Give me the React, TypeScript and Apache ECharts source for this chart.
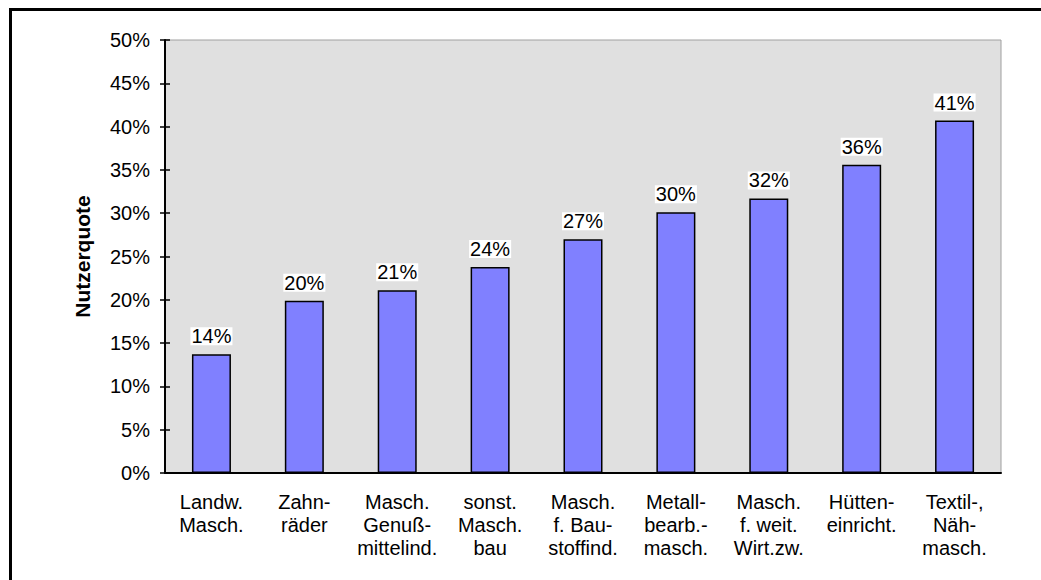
import React, { useEffect, useRef } from "react";
import * as echarts from "echarts";

const categories = [
  "Landw.\nMasch.",
  "Zahn-\nräder",
  "Masch.\nGenuß-\nmittelind.",
  "sonst.\nMasch.\nbau",
  "Masch.\nf. Bau-\nstoffind.",
  "Metall-\nbearb.-\nmasch.",
  "Masch.\nf. weit.\nWirt.zw.",
  "Hütten-\neinricht.",
  "Textil-,\nNäh-\nmasch.",
];
const values = [13.7, 19.9, 21.1, 23.8, 27.0, 30.1, 31.7, 35.6, 40.7];
const yMin = 0;
const yMax = 50;
const yStep = 5;
const axisTitle = "Nutzerquote";

const FONT = "Liberation Sans, Arial, sans-serif";

export default function App() {
  const ref = useRef<HTMLDivElement>(null);
  useEffect(() => {
    if (!ref.current) return;
    const chart = echarts.init(ref.current, null, { renderer: "svg" });
    const commonY = { type: "value", min: yMin, max: yMax, interval: yStep, position: "left" };
    chart.setOption({
      animation: false,
      textStyle: { fontFamily: FONT },
      grid: {
        left: 165,
        top: 40,
        width: 836,
        height: 433,
        show: true,
        backgroundColor: "#e0e0e0",
        borderColor: "#a0a0a0",
        borderWidth: 1,
      },
      graphic: [
        { type: "line", shape: { x1: 9, y1: 9.5, x2: 1041, y2: 9.5 }, style: { stroke: "#000", lineWidth: 3 } },
        { type: "line", shape: { x1: 10.5, y1: 8, x2: 10.5, y2: 580 }, style: { stroke: "#000", lineWidth: 3 } },
      ],
      xAxis: [
        {
          type: "category",
          data: categories,
          position: "bottom",
          axisLine: { lineStyle: { color: "#000", width: 2 } },
          axisTick: { length: 5, lineStyle: { color: "#000", width: 1.5 } },
          axisLabel: {
            interval: 0,
            color: "#000",
            fontFamily: FONT,
            fontSize: 20,
            lineHeight: 23,
            margin: 17,
            align: "center",
          },
          splitLine: { show: false },
        },
        {
          type: "category",
          data: categories,
          position: "bottom",
          axisLine: { show: false },
          axisTick: { inside: true, length: 5, lineStyle: { color: "#000", width: 1.5 } },
          axisLabel: { show: false },
          splitLine: { show: false },
        },
      ],
      yAxis: [
        {
          ...commonY,
          name: axisTitle,
          nameLocation: "middle",
          nameRotate: 90,
          nameGap: 72,
          nameTextStyle: { color: "#000", fontFamily: FONT, fontSize: 21, fontWeight: "bold" },
          axisLine: { show: true, lineStyle: { color: "#000", width: 2 } },
          axisTick: { show: true, length: 5, lineStyle: { color: "#000", width: 1.5 } },
          axisLabel: {
            formatter: "{value}%",
            color: "#000",
            fontFamily: FONT,
            fontSize: 20,
            margin: 15,
            padding: [10, 0, 0, 0],
          },
          splitLine: { show: false },
        },
        {
          ...commonY,
          axisLine: { show: false },
          axisTick: { show: true, inside: true, length: 5, lineStyle: { color: "#000", width: 1.5 } },
          axisLabel: { show: false },
          splitLine: { show: false },
        },
      ],
      series: [
        {
          type: "bar",
          data: values,
          xAxisIndex: 0,
          yAxisIndex: 0,
          barWidth: 39,
          itemStyle: { color: "#8080ff", borderColor: "#000", borderWidth: 1.5 },
          label: {
            show: true,
            position: "top",
            distance: 9,
            formatter: (p: any) => Math.round(p.value) + "%",
            color: "#000",
            fontFamily: FONT,
            fontSize: 20,
            lineHeight: 18,
            backgroundColor: "#fff",
            padding: [0, 1, 0, 1],
          },
        },
      ],
    });
    return () => chart.dispose();
  }, []);
  return (
    <div
      ref={ref}
      style={{ position: "absolute", left: 0, top: 0, width: 1041, height: 580 }}
    />
  );
}
